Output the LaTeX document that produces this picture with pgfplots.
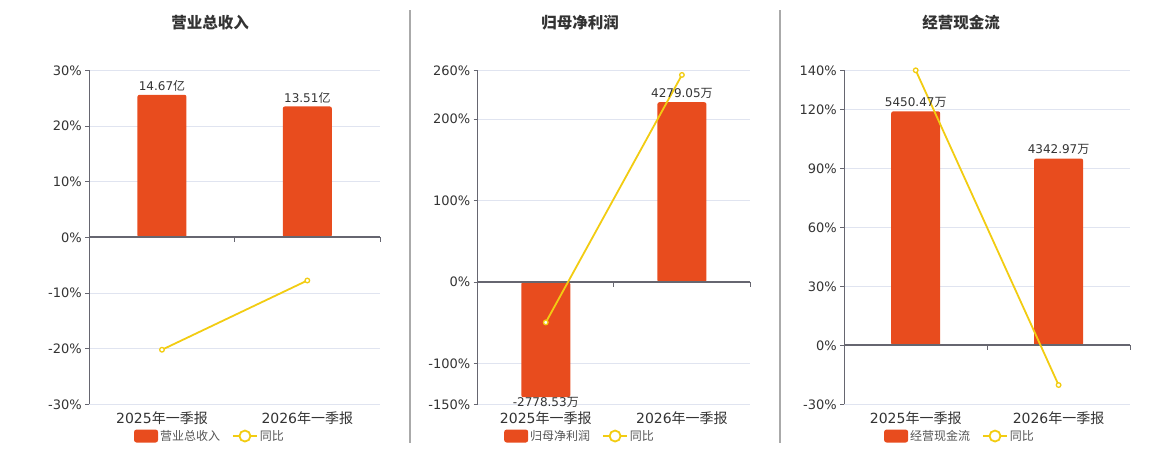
\documentclass[border=0pt]{standalone}
\usepackage{fontspec}
\setmainfont{DejaVu Sans}
\newfontfamily\cjk{Noto Sans CJK SC}
\usepackage{pgfplots}
\pgfplotsset{compat=1.18}

\definecolor{barred}{RGB}{232,76,30}
\definecolor{lineyel}{RGB}{242,204,18}
\definecolor{gridcol}{RGB}{224,228,240}
\definecolor{axiscol}{RGB}{102,102,112}
\definecolor{txtcol}{RGB}{51,51,51}
\definecolor{legcol}{RGB}{85,85,85}
\definecolor{sepcol}{RGB}{170,170,170}

\pgfplotsset{
  panel/.style={
    scale only axis, height=334pt,
    xmin=-0.5, xmax=1.5,
    xtick={0,1},
    xticklabels={2025{\cjk 年一季报},2026{\cjk 年一季报}},
    axis y line*=left, axis x line*=bottom,
    x axis line style={draw=none},
    xtick style={draw=none},
    y axis line style={axiscol, line width=0.9pt},
    ytick style={axiscol, line width=0.9pt},
    ymajorgrids, grid style={gridcol, line width=0.8pt},
    tick align=outside, major tick length=4pt,
    yticklabel={\pgfmathprintnumber{\tick}\%},
    /pgf/number format/assume math mode=true,
    yticklabel style={font=\fontsize{13}{15}\selectfont, text=txtcol},
    xticklabel style={font=\fontsize{14}{16}\selectfont, text=txtcol},
    clip=false,
    legend columns=2,
    legend style={draw=none, fill=none, anchor=center, inner sep=0pt,
      font=\fontsize{12}{14}\selectfont\cjk, text=legcol,
      /tikz/every even column/.append style={column sep=10pt}},
  },
  bars/.style={ybar, bar width=49pt, bar shift=0pt, fill=barred, draw=none,
    rounded corners=2pt,
    point meta=explicit symbolic, nodes near coords={\pgfplotspointmeta},
    nodes near coords style={font=\fontsize{12}{14}\selectfont, text=txtcol},
    legend image code/.code={\fill[barred, rounded corners=2.5pt] (0pt,-6.5pt) rectangle (24pt,6.5pt);}},
  yoy/.style={lineyel, line width=1.8pt, mark=*, mark size=2.3pt,
    mark options={fill=white, draw=lineyel, line width=1.3pt},
    legend image code/.code={\draw[lineyel, line width=1.8pt] (0pt,0pt) -- (24pt,0pt);
      \draw[lineyel, line width=1.8pt, fill=white] (12pt,0pt) circle (5.5pt);}},
}

\begin{document}
\begin{tikzpicture}
\useasboundingbox (0,0) rectangle (1160pt,450pt);

% separators
\draw[sepcol, line width=1.2pt] (410pt,7pt) -- (410pt,440pt);
\draw[sepcol, line width=1.2pt] (780pt,7pt) -- (780pt,440pt);

% titles
\node[font=\fontsize{15.5}{18}\selectfont\cjk\bfseries, text=txtcol] at (210pt,427pt) {营业总收入};
\node[font=\fontsize{15.5}{18}\selectfont\cjk\bfseries, text=txtcol] at (580pt,427pt) {归母净利润};
\node[font=\fontsize{15.5}{18}\selectfont\cjk\bfseries, text=txtcol] at (961pt,427pt) {经营现金流};

% panel 1
\begin{axis}[panel, at={(89.3pt,45.7pt)}, anchor=south west, width=290.7pt,
  ymin=-30, ymax=30, ytick={-30,-20,-10,0,10,20,30},
  legend style={at={(axis description cs:0.415,-0.095)}}]
\addplot[bars] coordinates {(0,25.6) [14.67{\cjk 亿}] (1,23.5) [13.51{\cjk 亿}]};
\addlegendentry{营业总收入}
\draw[axiscol, line width=1.8pt] (-0.5,0) -- (1.5,0);
\draw[axiscol, line width=0.9pt] (0.5,0) -- ++(0pt,-5pt) (1.5,0) -- ++(0pt,-5pt);
\addplot[yoy] coordinates {(0,-20.2) (1,-7.76)};
\addlegendentry{同比}
\end{axis}

% panel 2
\begin{axis}[panel, at={(477.7pt,45.7pt)}, anchor=south west, width=272.3pt,
  ymin=-150, ymax=260, ytick={-150,-100,0,100,200,260},
  legend style={at={(axis description cs:0.376,-0.095)}}]
\addplot[bars, nodes near coords style={anchor=north, yshift=3pt}]
  coordinates {(0,-141.3) [-2778.53{\cjk 万}]};
\addlegendentry{归母净利润}
\addplot[bars, forget plot] coordinates {(1,220.8) [4279.05{\cjk 万}]};
\draw[axiscol, line width=1.8pt] (-0.5,0) -- (1.5,0);
\draw[axiscol, line width=0.9pt] (0.5,0) -- ++(0pt,-5pt) (1.5,0) -- ++(0pt,-5pt);
\addplot[yoy] coordinates {(0,-49.5) (1,254.3)};
\addlegendentry{同比}
\end{axis}

% panel 3
\begin{axis}[panel, at={(844.3pt,45.7pt)}, anchor=south west, width=285.7pt,
  ymin=-30, ymax=140, ytick={-30,0,30,60,90,120,140},
  legend style={at={(axis description cs:0.405,-0.095)}}]
\addplot[bars] coordinates {(0,119.1) [5450.47{\cjk 万}] (1,95.1) [4342.97{\cjk 万}]};
\addlegendentry{经营现金流}
\draw[axiscol, line width=1.8pt] (-0.5,0) -- (1.5,0);
\draw[axiscol, line width=0.9pt] (0.5,0) -- ++(0pt,-5pt) (1.5,0) -- ++(0pt,-5pt);
\addplot[yoy] coordinates {(0,140) (1,-20.2)};
\addlegendentry{同比}
\end{axis}
\end{tikzpicture}
\end{document}
